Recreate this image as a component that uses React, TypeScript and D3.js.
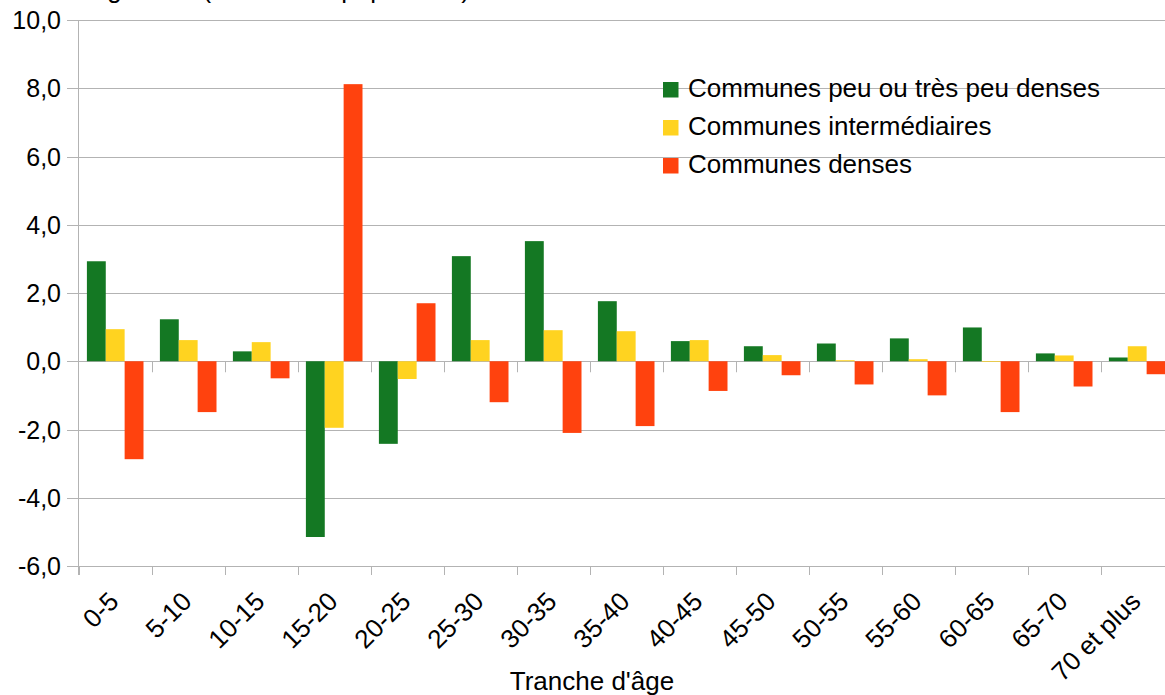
import React from "react";
import * as d3 from "d3";

const categories = ["0-5", "5-10", "10-15", "15-20", "20-25", "25-30", "30-35", "35-40", "40-45", "45-50", "50-55", "55-60", "60-65", "65-70", "70 et plus"];
const seriesNames = ["Communes peu ou très peu denses", "Communes intermédiaires", "Communes denses"];
const peuDenses = [2.93, 1.23, 0.29, -5.15, -2.42, 3.08, 3.52, 1.76, 0.59, 0.44, 0.52, 0.67, 0.99, 0.23, 0.11];
const intermediaires = [0.94, 0.62, 0.56, -1.95, -0.52, 0.62, 0.91, 0.88, 0.62, 0.18, 0.03, 0.06, -0.02, 0.17, 0.44];
const denses = [-2.87, -1.49, -0.5, 8.12, 1.7, -1.2, -2.1, -1.9, -0.87, -0.41, -0.68, -1.0, -1.49, -0.74, -0.38];
const yTicks = [-6, -4, -2, 0, 2, 4, 6, 8, 10];
const colors = ["#147823", "#ffd320", "#ff420e"];
const yTitle = "Solde migratoire (en % de la population)";
const xTitle = "Tranche d'âge";

const W = 1165;
const H = 695;
const FONT = "'Liberation Sans', Arial, sans-serif";

export default function App() {
  const series = [peuDenses, intermediaires, denses];
  const left = 78.7;
  const band = 73;
  const x0 = d3.scaleBand<string>().domain(categories).range([left, left + band * categories.length]).padding(0);
  const x1 = d3.scaleBand<number>().domain([0, 1, 2]).range([8.2, band - 8.2]).padding(0);
  const y = d3.scaleLinear().domain([-6, 10]).range([566, 20]);
  const right = left + band * categories.length;
  const fmt = (v: number) => v.toFixed(1).replace(".", ",");
  const grid = "#b3b3b3";
  const boundaries = d3.range(categories.length + 1).map((k) => left + band * k);

  return (
    <svg width={W} height={H} style={{ position: "absolute", left: 0, top: 0, background: "#fff" }} fontFamily={FONT}>
      <rect x={0} y={0} width={W} height={H} fill="#fff" />
      {/* title cut at top */}
      <text x={6} y={-2.5} fontSize={26} fill="#000">{yTitle}</text>
      {/* gridlines */}
      {yTicks.map((t) => (
        <g key={t}>
          <line x1={67} x2={right} y1={Math.round(y(t)) + 0.5} y2={Math.round(y(t)) + 0.5} stroke={grid} strokeWidth={1} />
          <text x={61} y={y(t) + 9} fontSize={25} textAnchor="end" fill="#000">{fmt(t)}</text>
        </g>
      ))}
      {/* y axis line */}
      <line x1={78.5} x2={78.5} y1={y(10)} y2={575} stroke={grid} strokeWidth={1} />
      {/* ticks at zero line and bottom */}
      {boundaries.map((bx, i) => (
        <g key={i}>
          {i > 0 && <line x1={Math.round(bx) + 0.5} x2={Math.round(bx) + 0.5} y1={y(0)} y2={y(0) + 11} stroke={grid} strokeWidth={1} />}
          <line x1={Math.round(bx) + 0.5} x2={Math.round(bx) + 0.5} y1={y(-6)} y2={y(-6) + 9} stroke={grid} strokeWidth={1} />
        </g>
      ))}
      {/* bars */}
      {series.map((vals, si) => (
        <g key={si}>
          {vals.map((v, ci) => (
            <rect
              key={ci}
              x={(x0(categories[ci]) as number) + (x1(si) as number)}
              width={x1.bandwidth()}
              y={Math.min(y(v), y(0))}
              height={Math.abs(y(v) - y(0))}
              fill={colors[si]}
            />
          ))}
        </g>
      ))}
      {/* x labels */}
      {categories.map((c) => {
        const cx = (x0(c) as number) + band / 2;
        return (
          <text key={c} transform={`translate(${cx + 5},${603}) rotate(-45)`} fontSize={26} textAnchor="end" fill="#000">
            {c}
          </text>
        );
      })}
      <text x={592} y={690} fontSize={26} textAnchor="middle" fill="#000">{xTitle}</text>
      {/* legend */}
      {seriesNames.map((n, i) => (
        <g key={n}>
          <rect x={663} y={82 + i * 38} width={15.5} height={15.5} fill={colors[i]} />
          <text x={688} y={97 + i * 38} fontSize={26} fill="#000">{n}</text>
        </g>
      ))}
    </svg>
  );
}
